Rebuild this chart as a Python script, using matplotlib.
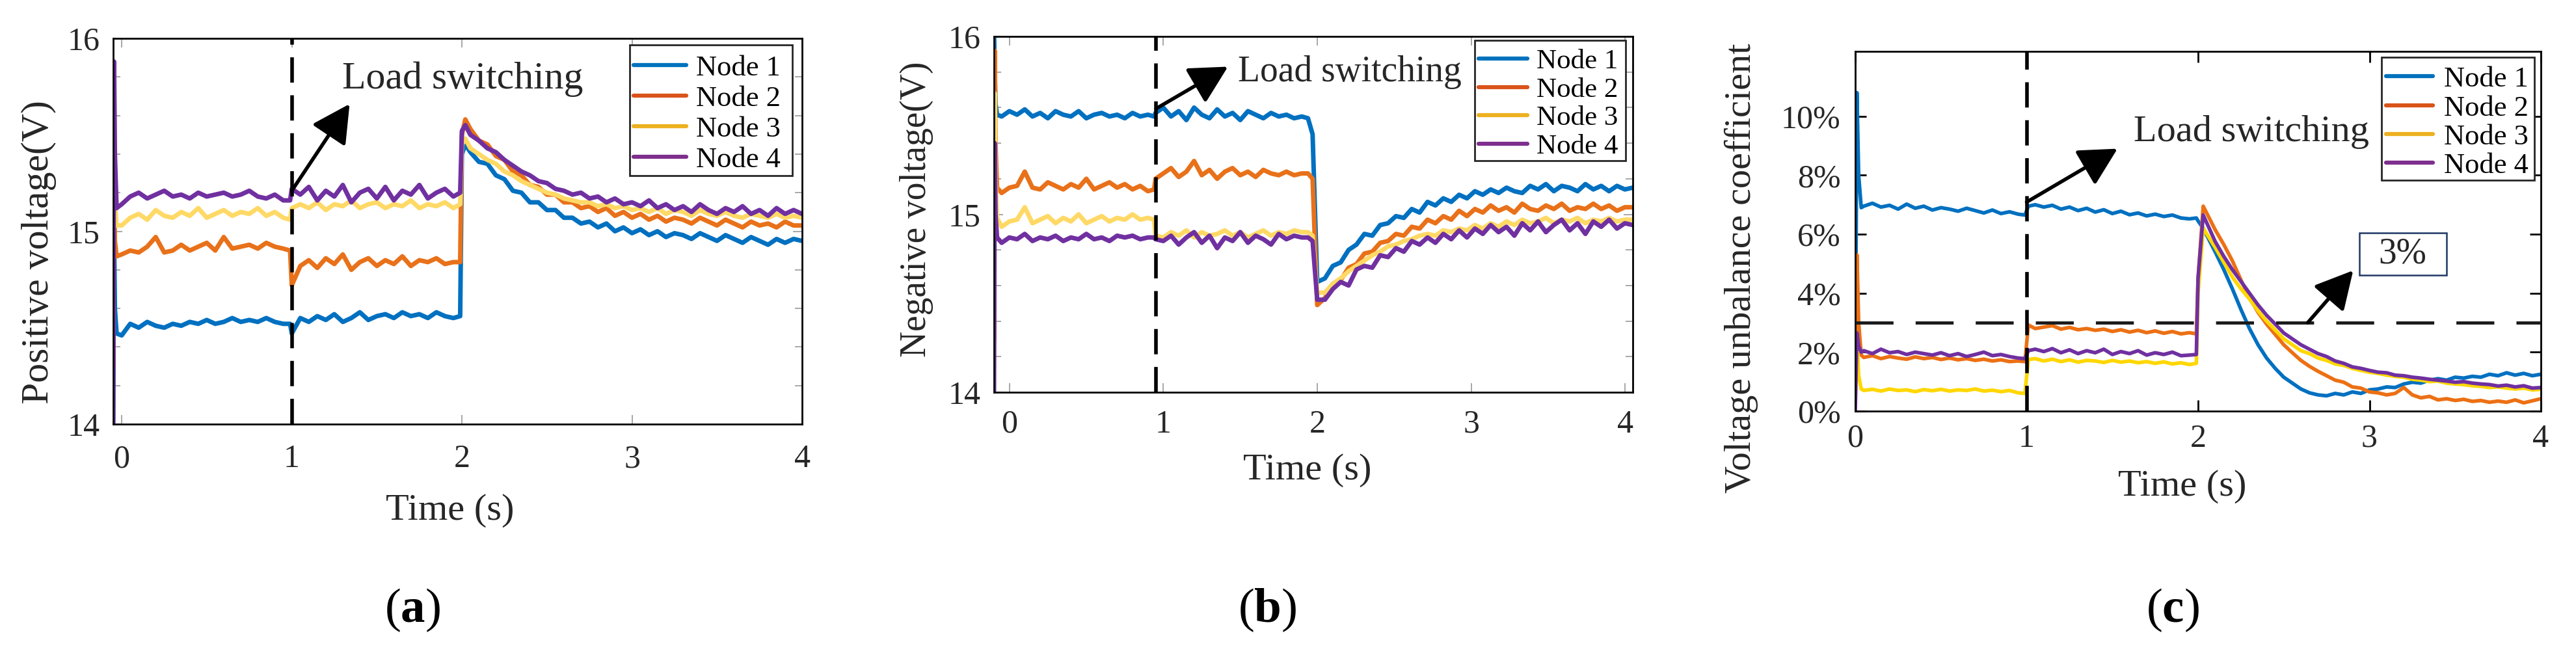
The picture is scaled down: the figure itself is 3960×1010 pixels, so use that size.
import numpy as np
import matplotlib
matplotlib.use('Agg')
import matplotlib.pyplot as plt
from matplotlib.lines import Line2D
from matplotlib.patches import Rectangle
from matplotlib.ticker import MultipleLocator, FuncFormatter

plt.rcParams['font.family'] = ['Liberation Serif', 'DejaVu Serif']
plt.rcParams['mathtext.fontset'] = 'custom'
plt.rcParams['mathtext.rm'] = 'Liberation Serif'
plt.rcParams['mathtext.bf'] = 'Liberation Serif:bold'

# ------------------------------------------------------------------ data
node_labels = ['Node 1', 'Node 2', 'Node 3', 'Node 4']
x_ticks = [0, 1, 2, 3, 4]
volt_ticks = [14, 15, 16]
pct_ticks = [0, 2, 4, 6, 8, 10]

# sample times (s)
t_a = np.concatenate([[-0.05, -0.045, -0.04, -0.03], np.linspace(0.0, 0.95, 20), [0.99],
                      np.linspace(1.0, 1.95, 20), [1.99, 2.0, 2.02], np.linspace(2.05, 4.0, 40)])
t_b = np.concatenate([[-0.1, -0.095, -0.09, -0.08], np.linspace(-0.05, 0.90, 20), [0.94],
                      np.linspace(0.95, 1.90, 20), [1.94, 1.97, 2.00], np.linspace(2.05, 4.05, 40)])
t_c = np.concatenate([[0.0, 0.01, 0.02, 0.035], np.linspace(0.05, 0.95, 19), [0.99, 1.01],
                      np.linspace(1.05, 1.95, 19), [1.99, 2.0, 2.03], np.linspace(2.1, 4.0, 39)])

# (a) positive voltage (V)
a_node1 = [14.02, 15.00, 14.60, 14.47,
           14.46, 14.52, 14.50, 14.53, 14.51, 14.50, 14.52, 14.51, 14.53, 14.52, 14.54, 14.52, 14.53, 14.55, 14.53, 14.54, 14.53, 14.55, 14.53, 14.52,
           14.52, 14.47, 14.55, 14.53, 14.56, 14.54, 14.57, 14.53, 14.55, 14.58, 14.54, 14.56, 14.57, 14.55, 14.58, 14.56, 14.57, 14.55, 14.58, 14.56, 14.55,
           14.56, 15.40, 15.45,
           15.41, 15.36, 15.35, 15.29, 15.27, 15.21, 15.20, 15.15, 15.15, 15.11, 15.11, 15.07, 15.07, 15.04, 15.05, 15.02, 15.04, 15.00, 15.02, 14.99,
           15.01, 14.98, 15.00, 14.97, 14.99, 14.98, 14.96, 14.99, 14.97, 14.95, 14.98, 14.96, 14.94, 14.97, 14.95, 14.93, 14.96, 14.94, 14.96, 14.95]
a_node2 = [14.30, 15.30, 14.95, 14.87,
           14.88, 14.90, 14.89, 14.92, 14.97, 14.89, 14.90, 14.93, 14.90, 14.92, 14.94, 14.90, 14.97, 14.91, 14.92, 14.93, 14.91, 14.94, 14.92, 14.91,
           14.90, 14.72, 14.82, 14.85, 14.81, 14.86, 14.83, 14.88, 14.80, 14.84, 14.86, 14.82, 14.85, 14.83, 14.87, 14.82, 14.85, 14.84, 14.86, 14.83, 14.84,
           14.84, 15.50, 15.58,
           15.53, 15.47, 15.45, 15.39, 15.37, 15.31, 15.29, 15.24, 15.23, 15.19, 15.19, 15.15, 15.15, 15.12, 15.13, 15.10, 15.12, 15.08, 15.10, 15.07,
           15.09, 15.06, 15.08, 15.05, 15.07, 15.06, 15.04, 15.07, 15.05, 15.03, 15.06, 15.04, 15.02, 15.05, 15.03, 15.04, 15.02, 15.05, 15.03, 15.03]
a_node3 = [14.50, 15.45, 15.15, 15.03,
           15.03, 15.07, 15.09, 15.06, 15.11, 15.08, 15.07, 15.10, 15.08, 15.12, 15.07, 15.09, 15.11, 15.08, 15.10, 15.09, 15.12, 15.08, 15.10, 15.07,
           15.06, 15.12, 15.14, 15.12, 15.15, 15.11, 15.14, 15.13, 15.16, 15.12, 15.14, 15.15, 15.12, 15.14, 15.13, 15.16, 15.12, 15.14, 15.13, 15.15, 15.12,
           15.14, 15.45, 15.48,
           15.43, 15.40, 15.37, 15.35, 15.31, 15.29, 15.26, 15.24, 15.22, 15.20, 15.19, 15.17, 15.16, 15.15, 15.15, 15.13, 15.14, 15.12, 15.13, 15.11,
           15.12, 15.10, 15.12, 15.09, 15.11, 15.10, 15.08, 15.11, 15.09, 15.08, 15.10, 15.08, 15.07, 15.09, 15.08, 15.07, 15.09, 15.07, 15.08, 15.07]
a_node4 = [14.00, 15.88, 15.40, 15.12,
           15.14, 15.18, 15.20, 15.17, 15.19, 15.21, 15.18, 15.19, 15.17, 15.20, 15.18, 15.19, 15.20, 15.18, 15.19, 15.21, 15.18, 15.17, 15.19, 15.16,
           15.16, 15.22, 15.19, 15.23, 15.16, 15.21, 15.18, 15.24, 15.15, 15.20, 15.22, 15.17, 15.23, 15.16, 15.21, 15.19, 15.24, 15.17, 15.20, 15.22, 15.18,
           15.20, 15.52, 15.55,
           15.50, 15.47, 15.43, 15.41, 15.37, 15.34, 15.31, 15.29, 15.26, 15.25, 15.22, 15.21, 15.19, 15.20, 15.17, 15.18, 15.15, 15.17, 15.14, 15.15,
           15.13, 15.16, 15.12, 15.14, 15.11, 15.13, 15.10, 15.14, 15.11, 15.09, 15.12, 15.10, 15.13, 15.09, 15.11, 15.08, 15.12, 15.09, 15.11, 15.09]

# (b) negative voltage (V)
b_node1 = [16.05, 15.80, 15.62, 15.56,
           15.55, 15.58, 15.56, 15.59, 15.55, 15.57, 15.54, 15.58, 15.56, 15.55, 15.58, 15.54, 15.56, 15.57, 15.55, 15.56, 15.54, 15.57, 15.55, 15.56,
           15.55, 15.57, 15.60, 15.55, 15.58, 15.53, 15.60, 15.56, 15.54, 15.59, 15.55, 15.57, 15.53, 15.58, 15.56, 15.54, 15.57, 15.55, 15.56, 15.54, 15.55,
           15.54, 15.45, 14.62,
           14.64, 14.71, 14.73, 14.80, 14.83, 14.89, 14.88, 14.94, 14.95, 14.99, 14.98, 15.03, 15.01, 15.07, 15.05, 15.09, 15.07, 15.11, 15.09, 15.13,
           15.11, 15.14, 15.12, 15.15, 15.13, 15.12, 15.16, 15.14, 15.17, 15.13, 15.16, 15.15, 15.13, 15.17, 15.14, 15.16, 15.13, 15.16, 15.14, 15.15]
b_node2 = [14.30, 15.92, 15.40, 15.15,
           15.12, 15.15, 15.16, 15.24, 15.15, 15.14, 15.18, 15.16, 15.14, 15.17, 15.15, 15.20, 15.14, 15.16, 15.18, 15.15, 15.17, 15.14, 15.16, 15.13,
           15.14, 15.20, 15.23, 15.26, 15.21, 15.24, 15.30, 15.22, 15.25, 15.20, 15.24, 15.26, 15.22, 15.24, 15.21, 15.25, 15.23, 15.22, 15.24, 15.22, 15.23,
           15.23, 15.20, 14.49,
           14.53, 14.61, 14.63, 14.70, 14.72, 14.78, 14.79, 14.84, 14.85, 14.89, 14.88, 14.93, 14.92, 14.97, 14.95, 14.99, 14.97, 15.02, 14.99, 15.03,
           15.01, 15.05, 15.02, 15.04, 15.01, 15.06, 15.03, 15.02, 15.05, 15.03, 15.06, 15.02, 15.04, 15.03, 15.06, 15.03, 15.05, 15.02, 15.04, 15.04]
b_node3 = [14.50, 15.68, 15.20, 14.98,
           14.93, 14.96, 14.97, 15.04, 14.95, 14.97, 14.99, 14.95, 14.98, 14.96, 15.00, 14.95, 14.97, 14.99, 14.96, 14.98, 14.97, 15.00, 14.97, 14.98,
           14.97, 14.88, 14.87, 14.90, 14.88, 14.91, 14.87, 14.90, 14.88, 14.89, 14.91, 14.88, 14.90, 14.87, 14.89, 14.91, 14.88, 14.90, 14.89, 14.91, 14.90,
           14.90, 14.88, 14.56,
           14.56, 14.61, 14.64, 14.68, 14.71, 14.74, 14.77, 14.79, 14.82, 14.83, 14.85, 14.86, 14.88, 14.89, 14.88, 14.91, 14.90, 14.92, 14.91, 14.94,
           14.92, 14.95, 14.93, 14.96, 14.94, 14.97, 14.95, 14.96, 14.98, 14.95, 14.97, 14.96, 14.98, 14.95, 14.97, 14.96, 14.98, 14.96, 14.97, 14.97]
b_node4 = [14.00, 15.40, 15.00, 14.87,
           14.84, 14.87, 14.86, 14.89, 14.85, 14.87, 14.86, 14.88, 14.85, 14.87, 14.86, 14.89, 14.86, 14.87, 14.85, 14.88, 14.87, 14.88, 14.86, 14.87,
           14.87, 14.86, 14.85, 14.88, 14.83, 14.87, 14.90, 14.84, 14.88, 14.81, 14.87, 14.85, 14.90, 14.84, 14.88, 14.86, 14.83, 14.89, 14.86, 14.88, 14.87,
           14.87, 14.85, 14.52,
           14.52, 14.58, 14.62, 14.60, 14.69, 14.71, 14.70, 14.77, 14.76, 14.81, 14.79, 14.85, 14.83, 14.87, 14.84, 14.89, 14.86, 14.91, 14.87, 14.92,
           14.89, 14.94, 14.90, 14.93, 14.88, 14.95, 14.91, 14.96, 14.90, 14.94, 14.97, 14.91, 14.95, 14.89, 14.96, 14.93, 14.97, 14.92, 14.95, 14.94]

# (c) voltage unbalance coefficient (%)
c_node1 = [0.5, 10.8, 8.0, 6.9,
           6.95, 7.05, 6.92, 6.98, 6.85, 7.02, 6.88, 6.95, 6.82, 6.90, 6.85, 6.78, 6.88, 6.80, 6.72, 6.82, 6.70, 6.76, 6.68,
           6.65, 6.95,
           7.00, 6.92, 6.98, 6.85, 6.92, 6.80, 6.88, 6.75, 6.83, 6.70, 6.78, 6.66, 6.72, 6.62, 6.68, 6.60, 6.65, 6.55, 6.52,
           6.55, 6.45, 6.20,
           5.40, 4.80, 4.15, 3.45, 2.80, 2.25, 1.80, 1.45, 1.15, 0.95, 0.75, 0.62, 0.55, 0.52, 0.60, 0.55, 0.65, 0.60, 0.72, 0.75,
           0.82, 0.80, 0.92, 0.98, 0.95, 1.05, 1.10, 1.05, 1.15, 1.12, 1.18, 1.15, 1.25, 1.20, 1.30, 1.22, 1.28, 1.20, 1.25]
c_node2 = [0.3, 5.3, 3.0, 1.9,
           1.82, 1.88, 1.78, 1.85, 1.80, 1.76, 1.84, 1.78, 1.82, 1.75, 1.80, 1.74, 1.78, 1.72, 1.76, 1.70, 1.74, 1.68, 1.70,
           1.68, 2.92,
           2.80, 2.85, 2.90, 2.78, 2.84, 2.76, 2.80, 2.74, 2.78, 2.70, 2.76, 2.68, 2.74, 2.66, 2.72, 2.64, 2.70, 2.62, 2.66,
           2.62, 4.50, 6.95,
           6.15, 5.65, 5.10, 4.45, 3.85, 3.35, 2.95, 2.60, 2.25, 1.98, 1.72, 1.52, 1.35, 1.20, 1.05, 0.98, 0.82, 0.78, 0.65, 0.62,
           0.55, 0.60, 0.80, 0.55, 0.45, 0.50, 0.38, 0.42, 0.36, 0.40, 0.33, 0.36, 0.30, 0.34, 0.30, 0.38, 0.28, 0.35, 0.42]
c_node3 = [0.2, 2.5, 1.2, 0.75,
           0.70, 0.74, 0.68, 0.75, 0.70, 0.72, 0.66, 0.73, 0.69, 0.74, 0.68, 0.72, 0.70, 0.75, 0.68, 0.71, 0.66, 0.70, 0.62,
           0.60, 1.75,
           1.78, 1.70, 1.76, 1.68, 1.74, 1.66, 1.72, 1.70, 1.65, 1.72, 1.66, 1.70, 1.64, 1.68, 1.62, 1.67, 1.60, 1.64, 1.58,
           1.62, 4.00, 6.20,
           5.55, 5.05, 4.55, 4.15, 3.80, 3.40, 3.05, 2.75, 2.45, 2.25, 2.05, 1.95, 1.80, 1.72, 1.60, 1.55, 1.45, 1.38, 1.32, 1.28,
           1.22, 1.18, 1.15, 1.08, 1.05, 1.00, 1.02, 0.95, 0.92, 0.90, 0.86, 0.84, 0.80, 0.82, 0.78, 0.75, 0.78, 0.72, 0.74]
c_node4 = [0.0, 2.65, 2.2, 2.0,
           2.05, 1.95, 2.10, 1.98, 2.02, 1.92, 2.00, 1.95, 1.90, 1.98, 1.88, 1.95, 1.85, 1.92, 2.00, 1.88, 1.92, 1.85, 1.80,
           1.78, 2.05,
           2.10, 2.02, 2.12, 1.98, 2.08, 1.95, 2.05, 1.98, 2.10, 1.92, 2.02, 1.95, 2.05, 1.90, 1.98, 1.92, 2.00, 1.88, 1.90,
           1.92, 4.50, 6.65,
           5.75, 5.25, 4.80, 4.40, 4.00, 3.60, 3.25, 2.95, 2.65, 2.45, 2.25, 2.10, 1.95, 1.85, 1.70, 1.62, 1.50, 1.45, 1.38, 1.32,
           1.30, 1.22, 1.20, 1.15, 1.12, 1.08, 1.05, 1.02, 0.98, 1.00, 0.95, 0.92, 0.90, 0.85, 0.88, 0.82, 0.86, 0.78, 0.80]

threshold_pct = 3

# ------------------------------------------------------------------ style
W, H, DPI = 3960, 1010, 100
legend_colors = ['#0072BD', '#D95319', '#EDB120', '#7E2F8E']
colors_ab = ['#0070C0', '#E8711A', '#FFD966', '#7030A0']
colors_c = ['#0070C0', '#EC7014', '#FFD700', '#7030A0']
TXT = '#262626'

fig = plt.figure(figsize=(W / DPI, H / DPI), dpi=DPI)


def add_ax(l, t, r, b):
    return fig.add_axes([l / W, 1 - b / H, (r - l) / W, (b - t) / H])


def fx(px):
    return px / W


def fy(py):
    return 1 - py / H


def manual_legend(box, rows, hx, tx, fs):
    x0, y0, x1, y1 = box
    fig.add_artist(Rectangle((fx(x0), fy(y1)), (x1 - x0) / W, (y1 - y0) / H,
                             transform=fig.transFigure, facecolor='white',
                             edgecolor='#262626', lw=2, zorder=5))
    for r, c, lab in zip(rows, legend_colors, node_labels):
        fig.add_artist(Line2D([fx(hx[0]), fx(hx[1])], [fy(r), fy(r)], transform=fig.transFigure,
                              color=c, lw=4.5, solid_capstyle='round', zorder=6))
        fig.text(fx(tx), fy(r + 5), lab, fontsize=fs, ha='left', va='center', color='black', zorder=6)


arrow_kw = dict(arrowstyle='-|>,head_length=0.85,head_width=0.45', color='black', lw=4,
                mutation_scale=42, shrinkA=0, shrinkB=0)

# ------------------------------------------------------------------ (a)
ax_a = add_ax(174, 59, 1233, 652)
for y, c in zip([a_node1, a_node2, a_node3, a_node4], colors_ab):
    ax_a.plot(t_a, y, color=c, lw=5)
ax_a.set_xlim(-0.05, 4.0)
ax_a.set_ylim(14, 16)
ax_a.axvline(1.0, color='black', lw=4, dashes=(7, 3.5), zorder=4)
ax_a.annotate('', xy=(1.34, 15.66), xytext=(1.0, 15.21), arrowprops=arrow_kw, zorder=6)
ax_a.text(1.296, 15.79, 'Load switching', fontsize=43, ha='left', va='center', color=TXT)

# ------------------------------------------------------------------ (b)
ax_b = add_ax(1528, 56, 2510, 603)
for y, c in zip([b_node1, b_node2, b_node3, b_node4], colors_ab):
    ax_b.plot(t_b, y, color=c, lw=5)
ax_b.set_xlim(-0.1, 4.05)
ax_b.set_ylim(14, 16)
ax_b.axvline(0.953, color='black', lw=4, dashes=(7, 3.5), zorder=4)
ax_b.annotate('', xy=(1.42, 15.83), xytext=(0.953, 15.594), arrowprops=arrow_kw, zorder=6)
ax_b.text(1.485, 15.80, 'Load switching', fontsize=40, ha='left', va='center', color=TXT)

for ax, pady in [(ax_a, 22), (ax_b, 19)]:
    ax.set_xticks(x_ticks)
    ax.set_yticks(volt_ticks)
    ax.yaxis.set_minor_locator(MultipleLocator(0.2))
    ax.tick_params(which='both', direction='in', top=True, right=True, color='#a0a0a0', width=1.3,
                   labelcolor=TXT, labelsize=36)
    ax.tick_params(which='major', length=10)
    ax.tick_params(which='minor', length=8)
    ax.tick_params(axis='x', pad=pady)
    ax.tick_params(axis='y', pad=15)
    for s in ax.spines.values():
        s.set_linewidth(2)
        s.set_color('black')

# ------------------------------------------------------------------ (c)
ax_c = add_ax(2852, 79, 3906, 632)
for y, c in zip([c_node1, c_node2, c_node3, c_node4], colors_c):
    ax_c.plot(t_c, y, color=c, lw=4)
ax_c.set_xlim(0, 4)
ax_c.set_ylim(0, 12.2)
ax_c.set_xticks(x_ticks)
ax_c.set_yticks(pct_ticks)
ax_c.yaxis.set_major_formatter(FuncFormatter(lambda v, p: f'{v:.0f}%'))
ax_c.tick_params(direction='in', top=True, right=True, color='black', width=2, length=12,
                 labelcolor=TXT, labelsize=36)
ax_c.tick_params(axis='x', pad=14)
ax_c.tick_params(axis='y', pad=16)
for s in ax_c.spines.values():
    s.set_linewidth(2)
    s.set_color('black')
ax_c.axvline(1.0, color='black', lw=4, dashes=(7, 3.5), zorder=4)
ax_c.axhline(threshold_pct, color='#1a1a1a', lw=3.5, dashes=(12, 7), zorder=4)
ax_c.annotate('', xy=(1.53, 8.9), xytext=(1.0, 7.09), arrowprops=arrow_kw, zorder=6)
ax_c.text(1.625, 9.47, 'Load switching', fontsize=42, ha='left', va='center', color=TXT)
ax_c.annotate('', xy=(2.905, 4.77), xytext=(2.64, 3.0), arrowprops=arrow_kw, zorder=6)
ax_c.add_patch(Rectangle((2.94, 4.61), 0.51, 1.43, facecolor='white', edgecolor='#1F3864', lw=1.8, zorder=6))
ax_c.text(3.194, 5.33, '3%', fontsize=40, ha='center', va='center', color=TXT, zorder=7)

# ------------------------------------------------------------------ legends
manual_legend((968, 69, 1218, 270), [100, 147, 194, 241], (974, 1055), 1070, 32)
manual_legend((2267, 62, 2499, 247), [90, 134, 177, 221], (2273, 2348), 2362, 31)
manual_legend((3661, 88, 3896, 277), [117, 162, 206, 250], (3668, 3740), 3757, 32)

# ------------------------------------------------------------------ axis labels & captions
fig.text(fx(692), fy(785), 'Time (s)', fontsize=42, ha='center', va='center', color=TXT)
fig.text(fx(2010), fy(723), 'Time (s)', fontsize=42, ha='center', va='center', color=TXT)
fig.text(fx(3355), fy(748), 'Time (s)', fontsize=42, ha='center', va='center', color=TXT)
fig.text(fx(60), fy(388), 'Positive voltage(V)', fontsize=43, rotation=90, ha='center', va='center', color=TXT)
fig.text(fx(1409), fy(322), 'Negative voltage(V)', fontsize=40, rotation=90, ha='center', va='center', color=TXT)
fig.text(fx(2677), fy(412), 'Voltage unbalance coefficient', fontsize=42, rotation=90, ha='center', va='center', color=TXT)

for cx, letter in [(634, 'a'), (1948, 'b'), (3340, 'c')]:
    fig.text(fx(cx), fy(938), r'$\mathrm{(}\mathbf{' + letter + r'}\mathrm{)}$', fontsize=54,
             ha='center', va='center', color='black')

fig.savefig('out.png', dpi=DPI, facecolor='white')
